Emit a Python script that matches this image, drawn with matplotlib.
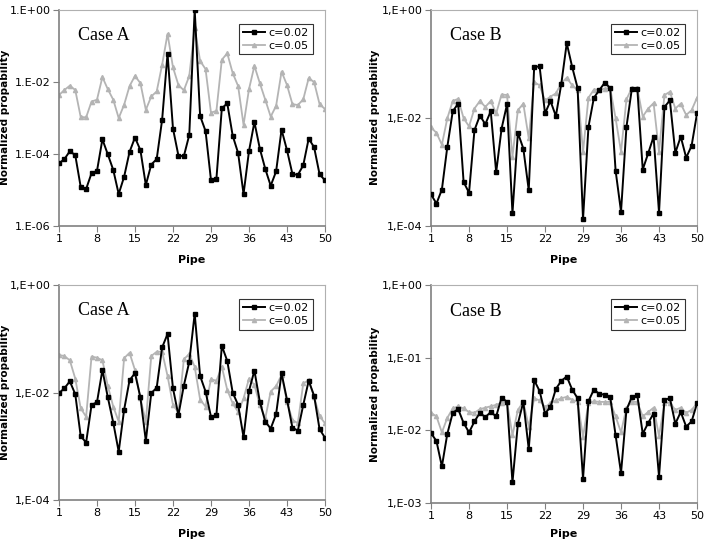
import numpy as np
import matplotlib.pyplot as plt

# pipes 1..50, values as log10 of the normalized probability
pipes = np.arange(1, 51)
xticks = [1, 8, 15, 22, 29, 36, 43, 50]

a_top_c002 = [-4.27, -4.15, -3.93, -4.04, -4.92, -4.98, -4.54, -4.48, -3.60, -4.02,
              -4.45, -5.12, -4.64, -3.95, -3.55, -3.90, -4.87, -4.30, -4.15, -3.06,
              -1.22, -3.30, -4.05, -4.07, -3.48, 0.00, -2.95, -3.37, -4.73, -4.70,
              -2.74, -2.60, -3.50, -3.98, -5.12, -3.93, -3.12, -3.86, -4.42, -4.89,
              -4.49, -3.33, -3.90, -4.56, -4.59, -4.32, -3.58, -3.82, -4.57, -4.74]
a_top_c005 = [-2.37, -2.23, -2.11, -2.23, -2.98, -2.99, -2.55, -2.50, -1.87, -2.21,
              -2.50, -3.01, -2.64, -2.12, -1.84, -2.04, -2.78, -2.41, -2.27, -1.53,
              -0.67, -1.60, -2.09, -2.24, -1.84, -0.51, -1.42, -1.65, -2.86, -2.81,
              -1.39, -1.21, -1.76, -2.12, -3.20, -2.21, -1.56, -2.04, -2.50, -2.97,
              -2.67, -1.72, -2.09, -2.62, -2.65, -2.49, -1.90, -2.01, -2.62, -2.76]

b_top_c002 = [-3.42, -3.59, -3.33, -2.54, -1.88, -1.74, -3.19, -3.39, -2.23, -1.96,
              -2.12, -1.88, -3.01, -2.20, -1.75, -3.77, -2.28, -2.57, -3.34, -1.06,
              -1.05, -1.92, -1.69, -1.97, -1.37, -0.62, -1.06, -1.45, -3.88, -2.17,
              -1.63, -1.49, -1.35, -1.45, -2.98, -3.74, -2.17, -1.46, -1.46, -2.96,
              -2.66, -2.35, -3.76, -1.80, -1.68, -2.65, -2.35, -2.74, -2.52, -1.92]
b_top_c005 = [-2.18, -2.28, -2.50, -2.01, -1.69, -1.65, -2.01, -2.16, -1.83, -1.69,
              -1.80, -1.69, -1.92, -1.57, -1.58, -2.72, -1.86, -1.74, -2.38, -1.34,
              -1.40, -1.68, -1.61, -1.55, -1.36, -1.26, -1.40, -1.49, -2.63, -1.63,
              -1.48, -1.48, -1.46, -1.45, -2.01, -2.63, -1.66, -1.45, -1.45, -1.98,
              -1.83, -1.73, -2.63, -1.58, -1.52, -1.83, -1.74, -1.95, -1.86, -1.63]

a_bot_c002 = [-2.01, -1.92, -1.79, -2.03, -2.81, -2.93, -2.23, -2.18, -1.58, -2.09,
              -2.56, -3.10, -2.32, -1.77, -1.64, -2.09, -2.90, -2.01, -1.91, -1.16,
              -0.91, -1.92, -2.42, -1.87, -1.43, -0.53, -1.69, -1.98, -2.45, -2.42,
              -1.13, -1.41, -2.00, -2.23, -2.83, -1.97, -1.59, -2.17, -2.54, -2.67,
              -2.40, -1.64, -2.13, -2.65, -2.71, -2.23, -1.78, -2.06, -2.68, -2.84]
a_bot_c005 = [-1.30, -1.32, -1.40, -1.74, -2.29, -2.45, -1.33, -1.35, -1.40, -1.88,
              -2.26, -2.54, -1.36, -1.26, -1.58, -2.11, -2.54, -1.32, -1.24, -1.24,
              -1.69, -2.23, -2.37, -1.38, -1.28, -1.52, -2.13, -2.26, -1.75, -1.78,
              -1.52, -1.95, -2.20, -2.36, -2.11, -1.74, -1.86, -2.23, -2.48, -1.98,
              -1.88, -1.67, -2.17, -2.51, -2.57, -1.83, -1.77, -2.08, -2.44, -2.57]

b_bot_c002 = [-2.04, -2.15, -2.50, -2.05, -1.76, -1.71, -1.90, -2.03, -1.88, -1.76,
              -1.82, -1.75, -1.81, -1.55, -1.61, -2.72, -1.91, -1.61, -2.26, -1.31,
              -1.46, -1.77, -1.68, -1.43, -1.32, -1.26, -1.44, -1.56, -2.67, -1.60,
              -1.44, -1.50, -1.51, -1.54, -2.07, -2.59, -1.72, -1.54, -1.52, -2.05,
              -1.90, -1.77, -2.64, -1.58, -1.56, -1.91, -1.75, -1.95, -1.88, -1.63]
b_bot_c005 = [-1.76, -1.81, -2.03, -1.83, -1.70, -1.67, -1.70, -1.75, -1.76, -1.71,
              -1.69, -1.67, -1.65, -1.62, -1.61, -2.07, -1.72, -1.61, -1.95, -1.56,
              -1.59, -1.68, -1.63, -1.59, -1.56, -1.54, -1.58, -1.61, -2.09, -1.63,
              -1.60, -1.61, -1.61, -1.61, -1.81, -2.03, -1.69, -1.61, -1.61, -1.81,
              -1.75, -1.69, -2.08, -1.63, -1.62, -1.72, -1.69, -1.76, -1.72, -1.63]

# panel settings: (data black, data gray, case title, y ticks exponents, y tick labels)
panels = [
    (a_top_c002, a_top_c005, "Case A", [0, -2, -4, -6],
     ["1.E+00", "1.E-02", "1.E-04", "1.E-06"]),
    (b_top_c002, b_top_c005, "Case B", [0, -2, -4],
     ["1,E+00", "1,E-02", "1,E-04"]),
    (a_bot_c002, a_bot_c005, "Case A", [0, -2, -4],
     ["1,E+00", "1,E-02", "1,E-04"]),
    (b_bot_c002, b_bot_c005, "Case B", [0, -1, -2, -3],
     ["1,E+00", "1,E-01", "1,E-02", "1,E-03"]),
]

positions = [
    [0.0833, 0.582, 0.3757, 0.400],
    [0.6088, 0.582, 0.3757, 0.400],
    [0.0833, 0.074, 0.3757, 0.398],
    [0.6088, 0.069, 0.3757, 0.403],
]
ylabel_x = [-0.183, -0.19, -0.183, -0.19]
xlabel_y = [-0.136, -0.136, -0.135, -0.121]

gris = "#b4b4b4"
fig = plt.figure(figsize=(7.08, 5.4), dpi=100)

for (negro, claro, titulo, exps, etiquetas), pos, lx, ly in zip(panels, positions, ylabel_x, xlabel_y):
    ax = fig.add_axes(pos)
    ax.semilogy(pipes, 10.0 ** np.array(negro), color="black", lw=1.4,
                marker="s", ms=3.2, label="c=0.02", zorder=3)
    ax.semilogy(pipes, 10.0 ** np.array(claro), color=gris, lw=1.3,
                marker="^", ms=3.0, label="c=0.05", zorder=2)
    ax.set_xlim(1, 50)
    ax.set_ylim(10.0 ** min(exps), 1.0)
    ax.set_xticks(xticks)
    ax.set_yticks([10.0 ** e for e in exps])
    ax.set_yticklabels(etiquetas)
    ax.yaxis.set_minor_locator(plt.NullLocator())
    ax.tick_params(labelsize=8, length=4, color="#808080", direction="out", pad=2)
    for lado in ["top", "right"]:
        ax.spines[lado].set_color("#b0b0b0")
    for lado in ["left", "bottom"]:
        ax.spines[lado].set_color("#808080")
        ax.spines[lado].set_linewidth(1.2)
    ax.set_xlabel("Pipe", fontsize=8, fontweight="bold")
    ax.xaxis.set_label_coords(0.5, ly)
    ax.set_ylabel("Normalized propability", fontsize=7.5, fontweight="bold")
    ax.yaxis.set_label_coords(lx, 0.5)
    ax.text(0.07, 0.86, titulo, transform=ax.transAxes,
            fontsize=13, family="Liberation Serif")
    leg = ax.legend(loc="upper right", fontsize=8, frameon=True, fancybox=False,
                    handlelength=2.0, borderpad=0.35, labelspacing=0.25,
                    handletextpad=0.3, bbox_to_anchor=(0.975, 0.96))
    leg.get_frame().set_edgecolor("black")
    leg.get_frame().set_linewidth(0.8)

fig.savefig("out.png", dpi=100)
